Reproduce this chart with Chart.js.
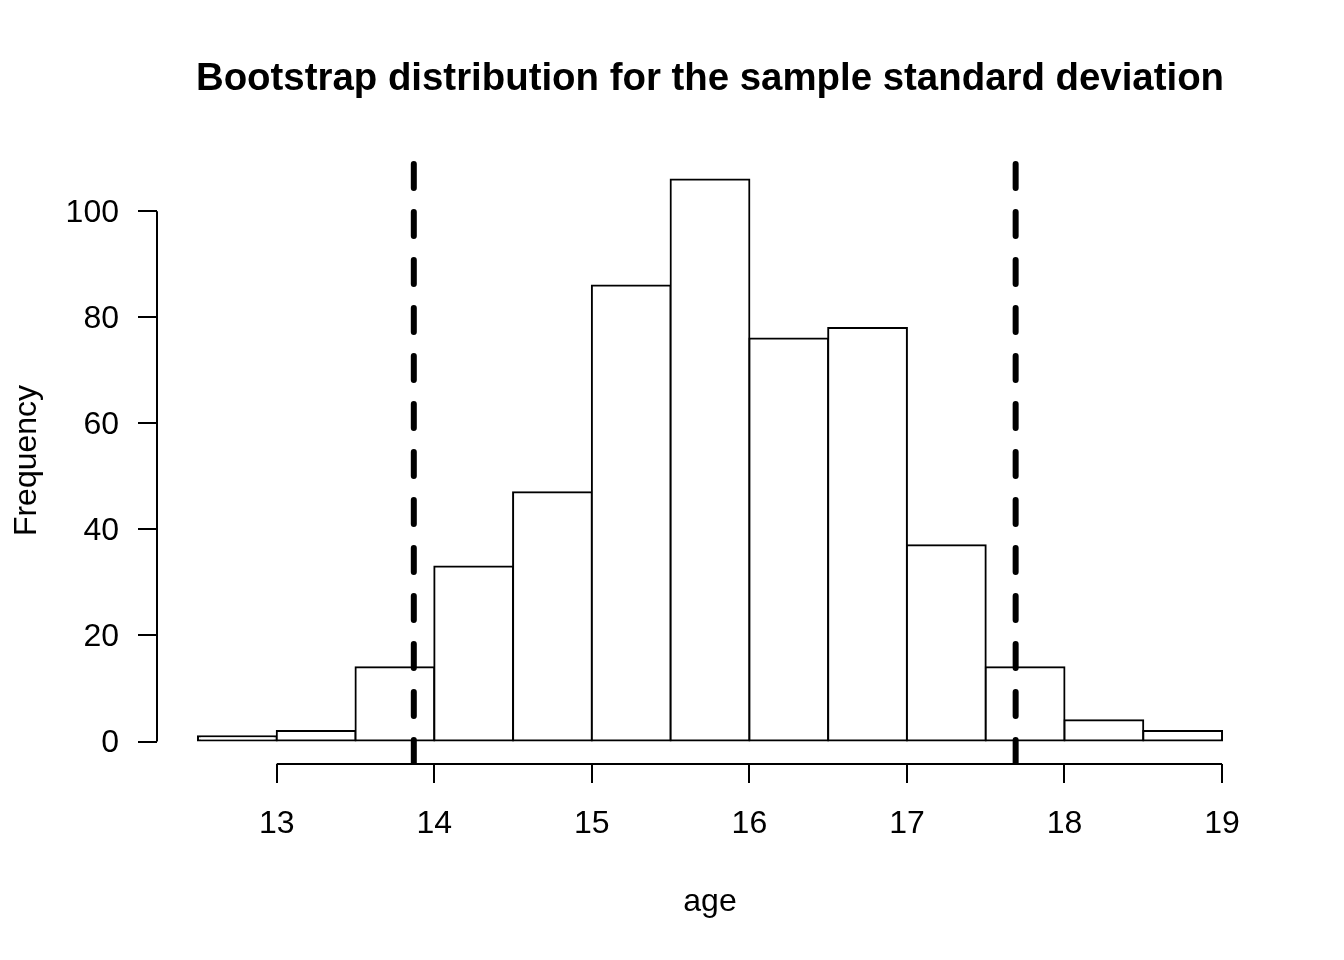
<!DOCTYPE html>
<html>
<head>
<meta charset="utf-8">
<script src="https://cdn.jsdelivr.net/npm/chart.js@4"></script>
<style>
  html, body { margin: 0; padding: 0; background: #fff; }
</style>
</head>
<body>
<canvas id="hist" width="1344" height="960"></canvas>
<script>
// histogram bins (left edges), width 0.5
const binStarts = [12.5, 13, 13.5, 14, 14.5, 15, 15.5, 16, 16.5, 17, 17.5, 18, 18.5];
const binWidth = 0.5;
const counts = [1, 2, 14, 33, 47, 86, 106, 76, 78, 37, 14, 4, 2];

// percentile interval shown as dashed lines
const ciBounds = [13.87, 17.69];

const xTicks = [13, 14, 15, 16, 17, 18, 19];
const yTicks = [0, 20, 40, 60, 80, 100];

const titleText = 'Bootstrap distribution for the sample standard deviation';
const xLabel = 'age';
const yLabel = 'Frequency';

const FONT = '"Liberation Sans", Arial, Helvetica, sans-serif';

// R style axis range: data range stretched 4%
const xLo = binStarts[0], xHi = binStarts[binStarts.length - 1] + binWidth;
const yLo = 0, yHi = Math.max(...counts);
const xMin = xLo - (xHi - xLo) * 0.04, xMax = xHi + (xHi - xLo) * 0.04;
const yMin = yLo - (yHi - yLo) * 0.04, yMax = yHi + (yHi - yLo) * 0.04;

const barData = binStarts.map((b, i) => ({ x: b + binWidth / 2, y: counts[i] }));

const ciDatasets = ciBounds.map(v => ({
    type: 'line',
    data: [{ x: v, y: yMin }, { x: v, y: yMax }],
    borderColor: '#000',
    borderWidth: 6,
    borderDash: [24, 24],
    borderCapStyle: 'round',
    pointRadius: 0,
    fill: false,
    clip: 0,
    order: 1
}));

// axis lines that only span the tick range, plus title and axis labels
const rAxes = {
    id: 'rAxes',
    afterDraw(chart) {
        const { ctx, chartArea, scales: { x, y } } = chart;
        ctx.save();
        ctx.strokeStyle = '#000';
        ctx.lineWidth = 2;
        ctx.beginPath();
        ctx.moveTo(chartArea.left, y.getPixelForValue(yTicks[0]));
        ctx.lineTo(chartArea.left, y.getPixelForValue(yTicks[yTicks.length - 1]));
        ctx.moveTo(x.getPixelForValue(xTicks[0]), chartArea.bottom);
        ctx.lineTo(x.getPixelForValue(xTicks[xTicks.length - 1]), chartArea.bottom);
        ctx.stroke();

        const cx = (chartArea.left + chartArea.right) / 2;
        const cy = (chartArea.top + chartArea.bottom) / 2;
        ctx.fillStyle = '#000';
        ctx.textAlign = 'center';
        ctx.textBaseline = 'alphabetic';
        ctx.font = 'bold 38.4px ' + FONT;
        ctx.fillText(titleText, cx, 90);
        ctx.font = '32px ' + FONT;
        ctx.fillText(xLabel, cx, 911);
        ctx.translate(36, cy);
        ctx.rotate(-Math.PI / 2);
        ctx.fillText(yLabel, 0, 0);
        ctx.restore();
    }
};

new Chart(document.getElementById('hist'), {
    type: 'bar',
    data: {
        datasets: [
            ...ciDatasets,
            {
                type: 'bar',
                data: barData,
                backgroundColor: '#fff',
                borderColor: '#000',
                borderWidth: 2,
                borderSkipped: false,
                inflateAmount: 1,
                barPercentage: 1,
                categoryPercentage: 1,
                order: 2
            }
        ]
    },
    options: {
        responsive: false,
        animation: false,
        devicePixelRatio: 1,
        layout: { padding: { top: 157, right: 81, left: 0, bottom: 0 } },
        plugins: {
            legend: { display: false },
            tooltip: { enabled: false },
            title: { display: false }
        },
        scales: {
            x: {
                type: 'linear',
                min: xMin,
                max: xMax,
                offset: false,
                afterBuildTicks: s => { s.ticks = xTicks.map(v => ({ value: v })); },
                afterFit: s => { s.height = 196; },
                border: { display: false },
                grid: {
                    offset: false,
                    drawOnChartArea: false,
                    drawTicks: true,
                    tickLength: 19,
                    lineWidth: 2,
                    color: '#000'
                },
                ticks: {
                    color: '#000',
                    padding: 22,
                    maxRotation: 0,
                    font: { family: FONT, size: 32 },
                    callback: v => String(v)
                }
            },
            y: {
                type: 'linear',
                min: yMin,
                max: yMax,
                afterBuildTicks: s => { s.ticks = yTicks.map(v => ({ value: v })); },
                afterFit: s => { s.width = 157; },
                border: { display: false },
                grid: {
                    drawOnChartArea: false,
                    drawTicks: true,
                    tickLength: 19,
                    lineWidth: 2,
                    color: '#000'
                },
                ticks: {
                    color: '#000',
                    padding: 19,
                    labelOffset: 2,
                    font: { family: FONT, size: 32 },
                    callback: v => String(v)
                }
            }
        }
    },
    plugins: [rAxes]
});
</script>
</body>
</html>
